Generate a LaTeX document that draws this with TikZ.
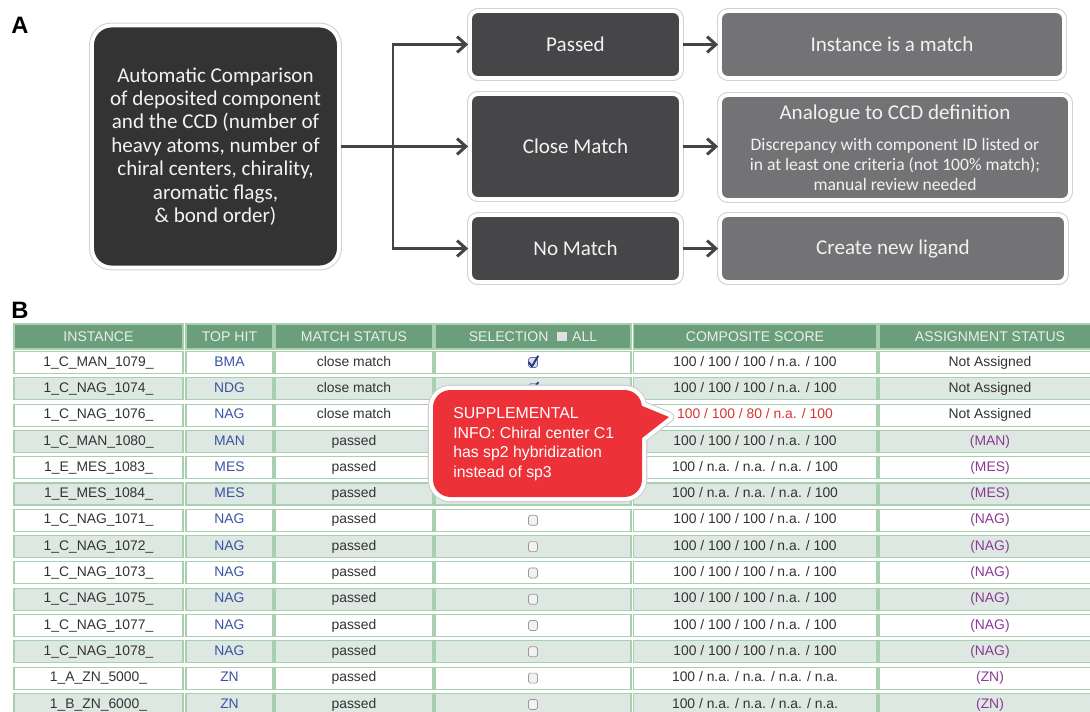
\documentclass[tikz,border=0pt]{standalone}
\usepackage{fontspec}
\setmainfont{Carlito}
\newfontfamily\tabfont{Liberation Sans}
\usetikzlibrary{arrows.meta}

\definecolor{boxdark}{HTML}{333333}
\definecolor{boxmid}{HTML}{464649}
\definecolor{boxlight}{HTML}{737376}
\definecolor{linkgray}{HTML}{444444}
\definecolor{headgreen}{HTML}{6B9E7B}
\definecolor{headtext}{HTML}{E9EFEA}
\definecolor{cellline}{HTML}{A9CFB1}
\definecolor{rowgray}{HTML}{DEE8E2}
\definecolor{bodytext}{HTML}{333333}
\definecolor{hitblue}{HTML}{3A53A4}
\definecolor{assignpurple}{HTML}{8A3A94}
\definecolor{scorered}{HTML}{D6372E}
\definecolor{callred}{HTML}{EC3238}

\tikzset{
  panel/.style={font=\tabfont\bfseries\fontsize{13.5}{15}\selectfont, inner sep=0pt},
  flowbox/.style={draw=white, line width=2.2pt, rounded corners=4.5pt,
    text=white!95!black, font=\fontsize{12}{13.3}\selectfont, align=center,
    inner sep=0pt, preaction={draw=black!18, line width=3.4pt}},
  flow/.style={draw=linkgray, line width=1.7pt, -{Straight Barb[length=5pt,width=9pt]}},
  link/.style={draw=linkgray, line width=1.7pt, line cap=rect},
  head/.style={fill=headgreen, draw=cellline, line width=0.6pt, minimum height=0.5cm,
    inner sep=0pt, text=headtext, font=\tabfont\fontsize{8}{9}\selectfont},
  cell/.style={draw=cellline, line width=0.6pt, minimum height=0.44cm, inner sep=0pt,
    text height=5.8pt, text depth=1.6pt, text=bodytext,
    font=\tabfont\fontsize{7.9}{9}\selectfont},
  chkbox/.style={draw=black!40, fill=black!5, line width=0.4pt, rounded corners=1pt,
    minimum width=0.18cm, minimum height=0.2cm, inner sep=0pt},
  tickbox/.style={chkbox, draw=hitblue!80, fill=hitblue!20},
  tick/.style={draw=hitblue!70!black, line width=1.1pt, line join=round},
  rim/.style={line join=round},
  notetext/.style={align=left, text=white, inner sep=0pt,
    font=\tabfont\fontsize{9}{11.1}\selectfont}
}

\begin{document}
\begin{tikzpicture}[x=0.02cm, y=-0.02cm]
  \useasboundingbox (0,0) rectangle (1090,711);

  % panel letters
  \node[panel] (labA) at (20,25) {A};
  \node[panel] (labB) at (20,310) {B};

  % A: comparison flow
  \node[flowbox, fill=boxdark, rounded corners=11pt, minimum width=4.94cm,
    minimum height=4.84cm] (cmp) at (215.5,146.5)
    {Automatic Comparison\\of deposited component\\and the CCD (number of\\heavy atoms, number of\\chiral centers, chirality,\\aromatic flags,\\\& bond order)};

  \node[flowbox, fill=boxmid, minimum width=4.22cm, minimum height=1.34cm] (passed) at (575.5,44.5) {Passed};
  \node[flowbox, fill=boxmid, minimum width=4.22cm, minimum height=2.1cm] (close) at (575.5,146.5) {Close Match};
  \node[flowbox, fill=boxmid, minimum width=4.22cm, minimum height=1.34cm] (nomatch) at (575.5,248.5) {No Match};

  \node[flowbox, fill=boxlight, minimum width=6.88cm, minimum height=1.34cm] (match) at (892,44.5) {Instance is a match};
  \node[flowbox, fill=boxlight, minimum width=7cm, minimum height=2.1cm,
    font=\fontsize{10}{11.4}\selectfont] (analogue) at (895,147.5)
    {{\fontsize{12}{13.3}\selectfont Analogue to CCD definition}\\[6pt]Discrepancy with component ID listed or\\in at least one criteria (not 100\% match);\\manual review needed};
  \node[flowbox, fill=boxlight, minimum width=6.92cm, minimum height=1.34cm] (newlig) at (893,248.5) {Create new ligand};

  \coordinate (split) at (393,146.5);
  \draw[link] (split |- passed) -- (split |- nomatch);
  \draw[flow] (cmp) -- (close);
  \draw[flow] (split |- passed) -- (passed);
  \draw[flow] (split |- nomatch) -- (nomatch);
  \draw[flow] (passed) -- (match);
  \draw[flow] (close) -- (analogue.west |- close);
  \draw[flow] (nomatch) -- (newlig);

  % B: result table
  \node[head, minimum width=3.38cm] (hinst) at (98.5,336.5) {INSTANCE};
  \node[head, minimum width=1.74cm] (hhit) at (229.5,336.5) {TOP HIT};
  \node[head, minimum width=3.16cm] (hstat) at (354,336.5) {MATCH STATUS};
  \node[head, minimum width=3.92cm] (hsel) at (533,336.5)
    {SELECTION\hspace{5pt}{\color{white!88!black}\rule{5.5pt}{5.5pt}}\hspace{3pt}ALL};
  \node[head, minimum width=4.88cm] (hscore) at (755,336.5) {COMPOSITE SCORE};
  \node[head, minimum width=4.44cm] (hassign) at (990,336.5) {ASSIGNMENT STATUS};

  \foreach \inst/\hit/\mstat/\sel/\score/\scol/\assign/\acol [count=\i] in {
      1\_C\_MAN\_1079\_/BMA/close match/1/{100 / 100 / 100 / n.a. / 100}/bodytext/Not Assigned/bodytext,
      1\_C\_NAG\_1074\_/NDG/close match/1/{100 / 100 / 100 / n.a. / 100}/bodytext/Not Assigned/bodytext,
      1\_C\_NAG\_1076\_/NAG/close match/0/{100 / 100 / 80 / n.a. / 100}/scorered/Not Assigned/bodytext,
      1\_C\_MAN\_1080\_/MAN/passed/0/{100 / 100 / 100 / n.a. / 100}/bodytext/(MAN)/assignpurple,
      1\_E\_MES\_1083\_/MES/passed/0/{100 / n.a. / n.a. / n.a. / 100}/bodytext/(MES)/assignpurple,
      1\_E\_MES\_1084\_/MES/passed/0/{100 / n.a. / n.a. / n.a. / 100}/bodytext/(MES)/assignpurple,
      1\_C\_NAG\_1071\_/NAG/passed/0/{100 / 100 / 100 / n.a. / 100}/bodytext/(NAG)/assignpurple,
      1\_C\_NAG\_1072\_/NAG/passed/0/{100 / 100 / 100 / n.a. / 100}/bodytext/(NAG)/assignpurple,
      1\_C\_NAG\_1073\_/NAG/passed/0/{100 / 100 / 100 / n.a. / 100}/bodytext/(NAG)/assignpurple,
      1\_C\_NAG\_1075\_/NAG/passed/0/{100 / 100 / 100 / n.a. / 100}/bodytext/(NAG)/assignpurple,
      1\_C\_NAG\_1077\_/NAG/passed/0/{100 / 100 / 100 / n.a. / 100}/bodytext/(NAG)/assignpurple,
      1\_C\_NAG\_1078\_/NAG/passed/0/{100 / 100 / 100 / n.a. / 100}/bodytext/(NAG)/assignpurple,
      1\_A\_ZN\_5000\_/ZN/passed/0/{100 / n.a. / n.a. / n.a. / n.a.}/bodytext/(ZN)/assignpurple,
      1\_B\_ZN\_6000\_/ZN/passed/0/{100 / n.a. / n.a. / n.a. / n.a.}/bodytext/(ZN)/assignpurple}{
    \pgfmathsetmacro\ry{362.5+(\i-1)*26.3}
    \ifodd\i \def\rowfill{white}\else \def\rowfill{rowgray}\fi
    \node[cell, fill=\rowfill, minimum width=3.38cm] (inst\i) at (98.5,\ry) {\inst};
    \node[cell, fill=\rowfill, minimum width=1.74cm, text=hitblue] (hit\i) at (229.5,\ry) {\hit};
    \node[cell, fill=\rowfill, minimum width=3.16cm] (stat\i) at (354,\ry) {\mstat};
    \node[cell, fill=\rowfill, minimum width=3.92cm] (sel\i) at (533,\ry) {};
    \node[cell, fill=\rowfill, minimum width=4.88cm, text=\scol] (score\i) at (755,\ry) {\score};
    \node[cell, fill=\rowfill, minimum width=4.44cm, text=\acol] (assign\i) at (990,\ry) {\assign};
    \ifnum\sel=1
      \node[tickbox] (box\i) at (sel\i) {};
      \draw[tick] ([shift={(-2.6pt,0.3pt)}]box\i.center) -- ([shift={(-0.6pt,-2.2pt)}]box\i.center)
        -- ([shift={(3pt,3.8pt)}]box\i.center);
    \else
      \node[chkbox] (box\i) at (sel\i) {};
    \fi
  }

  % supplemental info callout
  \path[rim, draw=black!20, line width=6pt] (433,390) [rounded corners=10pt] rectangle (642,497)
    [sharp corners] (635,403) -- (669,417) -- (637,442) -- cycle;
  \path[rim, draw=white, line width=4.8pt] (433,390) [rounded corners=10pt] rectangle (642,497)
    [sharp corners] (635,403) -- (669,417) -- (637,442) -- cycle;
  \fill[callred, rounded corners=10pt] (433,390) rectangle (642,497);
  \fill[callred] (635,403) -- (669,417) -- (637,442) -- cycle;
  \node[notetext, anchor=west] (info) at (453,444)
    {SUPPLEMENTAL\\INFO: Chiral center C1\\has sp2 hybridization\\instead of sp3};
\end{tikzpicture}
\end{document}
